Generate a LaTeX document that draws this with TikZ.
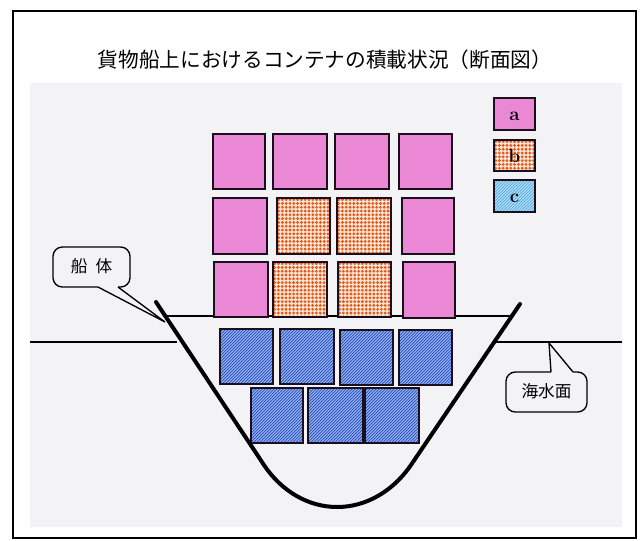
\documentclass[tikz,border=0pt]{standalone}
\usepackage{fontspec}
\newfontfamily\jpfont{Noto Sans CJK JP}
\definecolor{photobg}{RGB}{243,243,245}
\definecolor{pinkc}{RGB}{234,136,214}
\definecolor{orbg}{RGB}{251,228,210}
\definecolor{ordot}{RGB}{224,88,28}
\definecolor{bluebg}{RGB}{180,208,246}
\definecolor{bluefg}{RGB}{48,84,200}
\definecolor{lbluebg}{RGB}{212,236,250}
\definecolor{lbluefg}{RGB}{88,174,232}
\definecolor{boxedge}{RGB}{25,15,30}
\tikzset{
  boxline/.style={draw=boxedge,line width=1.9pt},
  legline/.style={draw=boxedge,line width=1.6pt},
  hull/.style={line width=3pt,line cap=round},
  thinline/.style={line width=1.1pt},
  calloutline/.style={line width=1pt},
  jptext/.style={font=\jpfont\fontsize{12.5}{14}\selectfont},
  legtext/.style={font=\bfseries\fontsize{14}{16}\selectfont}
}
\newcommand\ctrPink[5][boxline]{%
  \fill[pinkc] (#2,#3) rectangle (#4,#5);
  \draw[#1] (#2,#3) rectangle (#4,#5);}
\newcommand\ctrOrange[5][boxline]{%
  \begin{scope}
    \clip (#2,#3) rectangle (#4,#5);
    \fill[orbg] (#2,#3) rectangle (#4,#5);
    \foreach \k in {0,...,15}{\foreach \m in {0,...,15}{%
      \fill[ordot] ({#2+1.6+3.8*\k},{#3+1.6+3.8*\m}) circle (1.55);}}
  \end{scope}
  \draw[#1] (#2,#3) rectangle (#4,#5);}
\newcommand\ctrBlue[7][boxline]{%
  \begin{scope}
    \clip (#2,#3) rectangle (#4,#5);
    \fill[#6] (#2,#3) rectangle (#4,#5);
    \foreach \s in {-63,-60,...,63}{%
      \draw[#7,line width=0.8pt] ({#2+\s},{#5+2}) -- ++(64,-64);}
  \end{scope}
  \draw[#1] (#2,#3) rectangle (#4,#5);}
\begin{document}
\begin{tikzpicture}[x=0.75pt,y=-0.75pt]
\useasboundingbox (0,0) rectangle (643,540);
\fill[white] (0,0) rectangle (643,540);
\fill[photobg] (30,83) rectangle (622,527);
\draw[line width=1.5pt] (13,11) rectangle (636,538);
\node[font=\jpfont\fontsize{15.5}{18}\selectfont] (title) at (325,60)
  {貨物船上におけるコンテナの積載状況（断面図）};

% legend
\ctrPink[legline]{494}{98}{535}{130}
\node[legtext] (la) at (514.5,116) {a};
\ctrOrange[legline]{494}{140}{535}{171}
\node[legtext] (lb) at (514.5,156) {b};
\ctrBlue[legline]{494}{180}{535}{212}{lbluebg}{lbluefg}
\node[legtext] (lc) at (514.5,198) {c};

% deck and sea lines
\draw[thinline] (165,316) -- (511,316);
\draw[thinline] (30,342) -- (177,342);
\draw[thinline] (493,342) -- (622,342);

% containers above deck
\ctrPink{213}{134}{265}{189}
\ctrPink{273}{134}{327}{189}
\ctrPink{335}{134}{389}{189}
\ctrPink{399}{134}{452}{189}
\ctrPink{213}{198}{267}{254}
\ctrOrange{277}{198}{330}{254}
\ctrOrange{337}{198}{391}{254}
\ctrPink{402}{198}{454}{254}
\ctrPink{214}{262}{268}{317}
\ctrOrange{273}{262}{327}{317}
\ctrOrange{338}{262}{391}{317}
\ctrPink{403}{262}{455}{318}

% containers in hold
\ctrBlue{220}{329}{273}{384}{bluebg}{bluefg}
\ctrBlue{280}{329}{334}{384}{bluebg}{bluefg}
\ctrBlue{340}{330}{393}{385}{bluebg}{bluefg}
\ctrBlue{399}{330}{452}{385}{bluebg}{bluefg}
\ctrBlue{251}{388}{303}{443}{bluebg}{bluefg}
\ctrBlue{308}{388}{363}{443}{bluebg}{bluefg}
\ctrBlue{365}{388}{419}{443}{bluebg}{bluefg}

% hull
\draw[hull] (156,302) -- (262,462) .. controls (300,522) and (374,522) .. (413,462) -- (520,304);

% callout: hull
\coordinate (hulltip) at (165,322);
\draw[calloutline,rounded corners=7] (98,287) -- (53,287) -- (53,247) -- (130,247) -- (130,287) -- (118,287);
\draw[calloutline] (118,287) -- (hulltip) -- (98,287);
\node[jptext] (hullname) at (91.5,266) {船\hspace{6pt}体};

% callout: sea surface
\coordinate (seatip) at (549,343);
\draw[calloutline,rounded corners=7] (551,372) -- (506,372) -- (506,412) -- (587,412) -- (587,372) -- (573,372);
\draw[calloutline] (573,372) -- (seatip) -- (551,372);
\node[jptext] (seaname) at (546.5,391) {海水面};
\end{tikzpicture}
\end{document}
